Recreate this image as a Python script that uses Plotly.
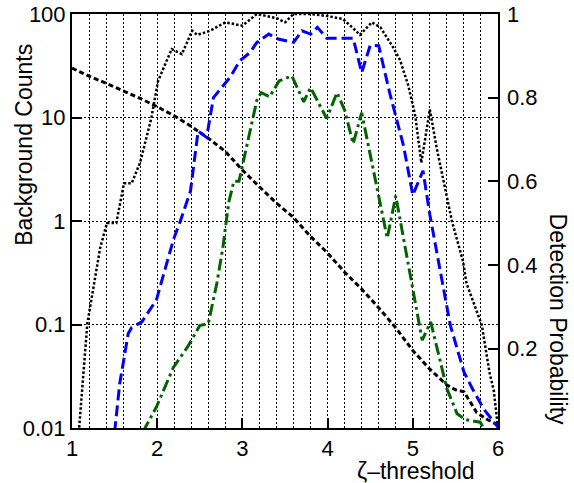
import plotly.graph_objects as go

# ---- Background counts (left, log axis) ----
zeta_bg = [1.0, 1.2, 1.4, 1.6, 1.8, 2.0, 2.2, 2.4, 2.6, 2.8, 3.0, 3.2, 3.4, 3.6, 3.8,
           4.0, 4.2, 4.4, 4.6, 4.8, 5.0, 5.2, 5.4, 5.5, 5.6, 5.75, 5.88, 6.0]
bg_counts = [30.0, 25.1, 21.4, 18.2, 15.3, 12.7, 10.4, 8.2, 6.3, 4.7, 3.1, 2.14, 1.49, 1.08, 0.71,
             0.49, 0.32, 0.22, 0.145, 0.093, 0.056, 0.037, 0.026, 0.0234, 0.0224, 0.0141, 0.012, 0.0107]

# ---- Detection probability curves (right, linear axis) ----
zeta_a = [1.08, 1.18, 1.33, 1.41, 1.52, 1.61, 1.70, 1.80, 1.93, 2.01, 2.17, 2.29, 2.41, 2.47,
          2.62, 2.80, 3.00, 3.17, 3.40, 3.50, 3.60, 3.80, 4.00, 4.18, 4.30, 4.38, 4.52, 4.62,
          4.77, 4.85, 4.95, 5.03, 5.10, 5.20, 5.28, 5.40, 5.46, 5.59, 5.63, 5.81, 5.90, 5.95, 6.0]
prob_a = [0.0, 0.26, 0.44, 0.50, 0.50, 0.595, 0.595, 0.645, 0.75, 0.84, 0.916, 0.904, 0.96, 0.95,
          0.96, 0.98, 0.972, 1.0, 0.99, 0.98, 1.0, 1.0, 0.995, 0.988, 0.966, 0.95, 0.98, 0.968,
          0.92, 0.89, 0.827, 0.755, 0.644, 0.772, 0.68, 0.568, 0.504, 0.408, 0.356, 0.256, 0.143, 0.10, 0.01]

zeta_b = [1.50, 1.56, 1.66, 1.70, 1.82, 1.99, 2.19, 2.27, 2.39, 2.48, 2.58, 2.66, 2.74, 2.86,
          2.97, 3.09, 3.17, 3.31, 3.42, 3.60, 3.70, 3.80, 3.88, 3.99, 4.30, 4.40, 4.50, 4.60,
          4.73, 4.89, 5.00, 5.12, 5.20, 5.32, 5.44, 5.60, 5.70, 5.83, 6.0]
prob_b = [0.0, 0.116, 0.236, 0.25, 0.264, 0.316, 0.46, 0.504, 0.576, 0.72, 0.705, 0.80, 0.82, 0.85,
          0.888, 0.908, 0.932, 0.952, 0.94, 0.932, 0.96, 0.952, 0.968, 0.942, 0.942, 0.86, 0.925, 0.924,
          0.81, 0.686, 0.567, 0.625, 0.52, 0.384, 0.256, 0.144, 0.104, 0.056, 0.012]

zeta_c = [1.83, 1.99, 2.19, 2.36, 2.50, 2.60, 2.70, 2.77, 2.84, 2.90, 2.96, 3.07, 3.17, 3.22,
          3.32, 3.43, 3.58, 3.72, 3.80, 3.99, 4.11, 4.20, 4.30, 4.40, 4.62, 4.70, 4.80, 5.11,
          5.21, 5.40, 5.52, 5.62, 5.79, 5.86]
prob_c = [0.0, 0.06, 0.155, 0.205, 0.255, 0.26, 0.356, 0.44, 0.55, 0.60, 0.60, 0.70, 0.794, 0.812,
          0.802, 0.84, 0.852, 0.79, 0.824, 0.75, 0.812, 0.77, 0.69, 0.764, 0.544, 0.464, 0.565, 0.22,
          0.264, 0.104, 0.044, 0.03, 0.024, 0.0]

x_ticks = [1, 2, 3, 4, 5, 6]
y_left_ticks = [0.01, 0.1, 1, 10, 100]
y_left_text = ['0.01', '0.1', '1', '10', '100']
y_right_ticks = [0.2, 0.4, 0.6, 0.8, 1]
y_right_text = ['0.2', '0.4', '0.6', '0.8', '1']

FONT = 'Liberation Sans, Arial, Helvetica, sans-serif'

fig = go.Figure()
fig.add_trace(go.Scatter(x=zeta_bg, y=bg_counts, mode='lines', yaxis='y',
                         line=dict(color='black', width=3, dash='5px,3px')))
fig.add_trace(go.Scatter(x=zeta_a, y=prob_a, mode='lines', yaxis='y2',
                         line=dict(color='black', width=2.5, dash='2.5px,2px')))
fig.add_trace(go.Scatter(x=zeta_b, y=prob_b, mode='lines', yaxis='y2',
                         line=dict(color='#0000ff', width=3, dash='11px,5px')))
fig.add_trace(go.Scatter(x=zeta_c, y=prob_c, mode='lines', yaxis='y2',
                         line=dict(color='#006400', width=3, dash='12px,4px,3px,4px')))

fig.update_layout(
    width=574, height=483,
    margin=dict(l=72, r=76, t=14, b=55, autoexpand=False),
    plot_bgcolor='white', paper_bgcolor='white',
    showlegend=False,
    font=dict(family=FONT, size=22, color='black'),
    xaxis=dict(range=[1, 6], tickvals=x_ticks, ticks='inside', ticklen=10, tickwidth=2,
               tickcolor='black', showline=True, linewidth=2, linecolor='black', mirror=True,
               showgrid=True, gridcolor='black', gridwidth=1, griddash='2px,2px', zeroline=False,
               automargin=False, ticklabeloverflow='allow',
               minor=dict(dtick=0.2, tick0=1, showgrid=True, gridcolor='black', gridwidth=1,
                          griddash='2px,2px', ticks='')),
    yaxis=dict(type='log', range=[-2, 2], tickvals=y_left_ticks, ticktext=y_left_text,
               ticks='inside', ticklen=10, tickwidth=2, tickcolor='black', automargin=False,
               ticklabeloverflow='allow',
               showline=True, linewidth=2, linecolor='black', mirror=True,
               showgrid=True, gridcolor='black', gridwidth=1, griddash='2px,2px', zeroline=False),
    yaxis2=dict(overlaying='y', side='right', range=[0.01, 1], tickvals=y_right_ticks,
                ticktext=y_right_text, ticks='inside', ticklen=10, tickwidth=2, tickcolor='black',
                ticklabelstandoff=8, ticklabeloverflow='allow',
                showgrid=False, zeroline=False, showline=False, automargin=False),
    annotations=[
        dict(text='ζ–threshold', xref='paper', yref='paper', x=0.8075, y=-0.103,
             xanchor='center', yanchor='middle', showarrow=False, font=dict(size=23)),
        dict(text='Background Counts', xref='paper', yref='paper', x=-0.1127, y=0.684,
             xanchor='center', yanchor='middle', showarrow=False, textangle=-90, font=dict(size=23)),
        dict(text='Detection Probability', xref='paper', yref='paper', x=1.143, y=0.262,
             xanchor='center', yanchor='middle', showarrow=False, textangle=90, font=dict(size=23)),
    ],
)

# Remove the page's default 8px body margin so the figure fills the window exactly.
fig.write_html('out.html', config={'displayModeBar': False},
               post_script="document.body.style.margin='0px';")
